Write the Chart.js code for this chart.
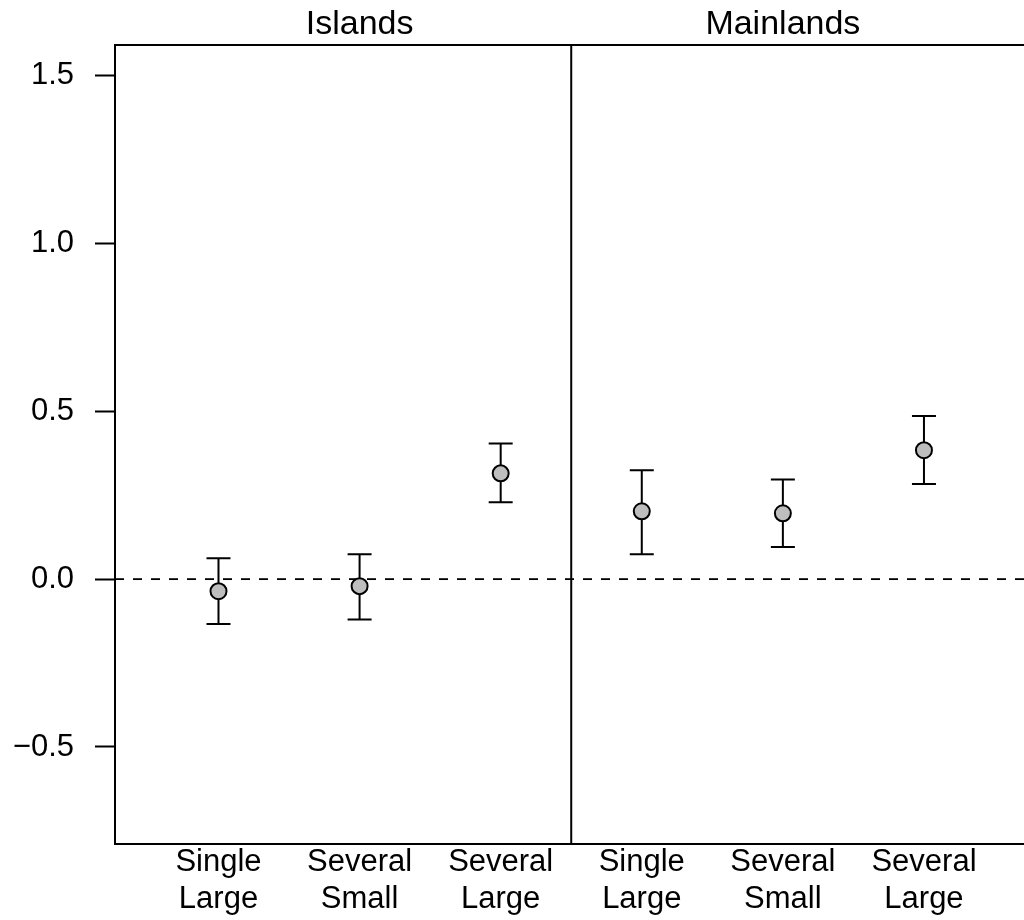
<!DOCTYPE html>
<html>
<head>
<meta charset="utf-8">
<title>Islands vs Mainlands</title>
<script src="https://cdn.jsdelivr.net/npm/chart.js@4.4.1/dist/chart.umd.min.js"></script>
<style>
  html, body { margin: 0; padding: 0; background: #fff; overflow: hidden; }
</style>
</head>
<body>
<canvas id="myChart" width="1024" height="920"></canvas>
<script>
// data
const panels = ['Islands', 'Mainlands'];
const categories = [['Single', 'Large'], ['Several', 'Small'], ['Several', 'Large']];

const islandsMean  = [-0.036, -0.021, 0.315];
const islandsLower = [-0.134, -0.120, 0.229];
const islandsUpper = [0.062, 0.074, 0.404];

const mainlandsMean  = [0.202, 0.196, 0.384];
const mainlandsLower = [0.074, 0.096, 0.283];
const mainlandsUpper = [0.324, 0.297, 0.486];

const yTicks = [-0.5, 0, 0.5, 1, 1.5];

const FONT = "'Liberation Sans', Arial, Helvetica, sans-serif";

// one point per category, islands at 1..3 and mainlands at 4..6
let points = [];
islandsMean.forEach(function(m, i) {
  points.push({ x: i + 1, y: m, lo: islandsLower[i], hi: islandsUpper[i] });
});
mainlandsMean.forEach(function(m, i) {
  points.push({ x: i + 4, y: m, lo: mainlandsLower[i], hi: mainlandsUpper[i] });
});

// frame, divider, zero line, error bars and panel titles
const panelPlugin = {
  id: 'panelPlugin',
  beforeDatasetsDraw(chart) {
    const ctx = chart.ctx;
    const area = chart.chartArea;
    const xs = chart.scales.x;
    const ys = chart.scales.y;
    ctx.save();
    ctx.strokeStyle = '#000';

    // dashed line at 0
    ctx.lineWidth = 1.8;
    ctx.setLineDash([9, 9]);
    ctx.beginPath();
    ctx.moveTo(area.left, ys.getPixelForValue(0));
    ctx.lineTo(area.right, ys.getPixelForValue(0));
    ctx.stroke();
    ctx.setLineDash([]);

    // box (right side runs off the page) + divider between the panels
    ctx.lineWidth = 2;
    ctx.beginPath();
    ctx.moveTo(area.right + 5, area.top);
    ctx.lineTo(area.left, area.top);
    ctx.lineTo(area.left, area.bottom);
    ctx.lineTo(area.right + 5, area.bottom);
    ctx.moveTo(xs.getPixelForValue(3.5), area.top);
    ctx.lineTo(xs.getPixelForValue(3.5), area.bottom);
    ctx.stroke();

    // error bars
    ctx.lineWidth = 2;
    chart.data.datasets[0].data.forEach(function(p) {
      const px = xs.getPixelForValue(p.x);
      const yLo = ys.getPixelForValue(p.lo);
      const yHi = ys.getPixelForValue(p.hi);
      ctx.beginPath();
      ctx.moveTo(px, yLo);
      ctx.lineTo(px, yHi);
      ctx.moveTo(px - 12, yLo);
      ctx.lineTo(px + 12, yLo);
      ctx.moveTo(px - 12, yHi);
      ctx.lineTo(px + 12, yHi);
      ctx.stroke();
    });

    // panel titles
    ctx.fillStyle = '#000';
    ctx.font = '34px ' + FONT;
    ctx.textAlign = 'center';
    ctx.textBaseline = 'alphabetic';
    ctx.fillText(panels[0], xs.getPixelForValue(2), 34);
    ctx.fillText(panels[1], xs.getPixelForValue(5), 34);
    ctx.restore();
  }
};

const chart = new Chart(document.getElementById('myChart'), {
  type: 'scatter',
  data: {
    datasets: [{
      data: points,
      pointRadius: 8,
      pointHoverRadius: 8,
      pointBackgroundColor: '#bebebe',
      pointBorderColor: '#000',
      pointBorderWidth: 2
    }]
  },
  options: {
    responsive: false,
    animation: false,
    layout: { autoPadding: false, padding: { top: 45, right: 0, left: 0, bottom: 0 } },
    plugins: {
      legend: { display: false },
      tooltip: { enabled: false }
    },
    scales: {
      x: {
        type: 'linear',
        min: 0.2665,
        max: 6.709,
        grid: { display: false, drawTicks: false },
        border: { display: false },
        afterBuildTicks: function(scale) {
          scale.ticks = [1, 2, 3, 4, 5, 6].map(function(v) { return { value: v }; });
        },
        afterFit: function(scale) {
          scale.height = 76;
          scale.paddingLeft = 0;
          scale.paddingRight = 0;
        },
        ticks: {
          autoSkip: false,
          maxRotation: 0,
          padding: 0,
          color: '#000',
          font: { family: FONT, size: 31, lineHeight: '37px' },
          callback: function(v) { return categories[(Math.round(v) - 1) % 3]; }
        }
      },
      y: {
        min: -0.789,
        max: 1.591,
        grid: {
          drawOnChartArea: false,
          tickLength: 20,
          tickColor: '#000',
          tickWidth: 2
        },
        border: { display: false },
        afterBuildTicks: function(scale) {
          scale.ticks = yTicks.map(function(v) { return { value: v }; });
        },
        afterFit: function(scale) {
          scale.width = 115;
          scale.paddingTop = 0;
          scale.paddingBottom = 0;
        },
        ticks: {
          padding: 21,
          color: '#000',
          font: { family: FONT, size: 31 },
          callback: function(v) {
            return (v < 0 ? '\u2212' : '') + Math.abs(v).toFixed(1);
          }
        }
      }
    }
  },
  plugins: [panelPlugin]
});
</script>
</body>
</html>
